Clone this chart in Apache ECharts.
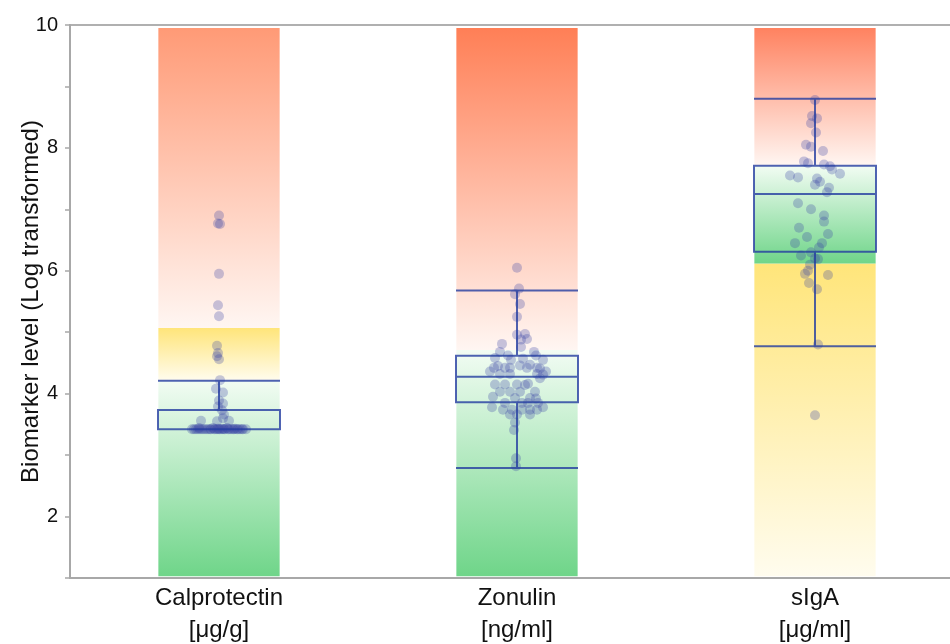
<!DOCTYPE html>
<html><head><meta charset="utf-8">
<script src="https://cdn.jsdelivr.net/npm/echarts@6/dist/echarts.min.js"></script>
<style>html,body{margin:0;padding:0;background:#fff}#c{width:950px;height:644px}</style>
</head><body><div id="c"></div>
<script>
// ---- data ----
const categories = ['Calprotectin\n[μg/g]', 'Zonulin\n[ng/ml]', 'sIgA\n[μg/ml]'];
const yTickLabels = ['2', '4', '6', '8', '10'];
// reference bands: [categoryIndex, low, high, zoneName]
const bandsCalprotectin = [[0, 1.03, 4.21, 'green'], [0, 4.21, 5.07, 'yellow'], [0, 5.07, 9.95, 'red']];
const bandsZonulin = [[1, 1.03, 4.71, 'green'], [1, 4.71, 9.95, 'red']];
const bandsSIgA = [[2, 1.03, 6.12, 'yellow'], [2, 6.12, 7.71, 'green'], [2, 7.71, 9.95, 'red']];
// box stats: [min, Q1, median, Q3, max]
const boxCalprotectin = [3.42, 3.42, 3.42, 3.735, 4.21];
const boxZonulin = [2.79, 3.86, 4.276, 4.618, 5.68];
const boxSIgA = [4.77, 6.31, 7.25, 7.71, 8.80];
// jittered points: [jitter offset (px in category), value]
const ptsCalprotectin = [[0,6.9],[-1,6.77],[1,6.76],[0,5.95],[-1,5.44],[0,5.26],[-2,4.78],[-1,4.66],[-2,4.61],[0,4.56],[1,4.22],[-3,4.08],[4,4.02],[0,3.89],[4,3.84],[-1,3.79],[3,3.73],[5,3.66],[-18,3.56],[-2,3.55],[10,3.56],[4,3.6],
  [-27,3.42],[-23,3.42],[-19,3.42],[-15,3.42],[-11,3.42],[-8,3.42],[-5,3.42],[-2,3.42],[0,3.42],[3,3.42],[6,3.42],[9,3.42],[12,3.42],[15,3.42],[18,3.42],[21,3.42],[24,3.42],[27,3.42],[-20,3.44],[-6,3.44],[8,3.44],
  [-25,3.42],[-21,3.42],[-17,3.42],[-13,3.42],[-9,3.42],[-4,3.42],[1,3.42],[5,3.42],[10,3.42],[14,3.42],[19,3.42],[23,3.42],[-1,3.43],[4,3.43],[16,3.43]];
const ptsZonulin = [[0,6.05],[2,5.71],[-2,5.62],[3,5.46],[0,5.25],[0,4.96],[8,4.97],[10,4.89],[4,4.88],[-15,4.81],[4,4.76],[-17,4.68],[17,4.68],[-9,4.62],[19,4.62],[-22,4.58],[-6,4.55],[6,4.57],[26,4.55],
  [-23,4.42],[-12,4.42],[-7,4.42],[10,4.42],[20,4.42],[23,4.41],[-19,4.45],[3,4.46],[13,4.47],[-27,4.36],[29,4.36],
  [-17,4.32],[-7,4.32],[20,4.32],[26,4.31],[23,4.25],[-22,4.15],[-12,4.15],[0,4.15],[8,4.14],[11,4.16],
  [-17,4.03],[-7,4.03],[3,4.03],[18,4.03],[-24,3.95],[-2,3.93],[13,3.93],[19,3.92],[-12,3.85],[5,3.85],[11,3.85],[21,3.85],
  [-25,3.78],[26,3.78],[-14,3.74],[-5,3.74],[5,3.74],[13,3.74],[20,3.74],[-7,3.66],[0,3.66],[13,3.66],[-2,3.53],[-3,3.41],[-1,2.95],[-1,2.82]];
const ptsSIgA = [[0,8.78],[-3,8.52],[2,8.48],[-4,8.4],[1,8.25],[-9,8.05],[-4,8.02],[8,7.95],[-11,7.78],[-7,7.75],[9,7.73],[15,7.7],[17,7.65],[25,7.58],[-25,7.55],[-17,7.52],[2,7.5],[5,7.45],[0,7.4],[14,7.35],[12,7.28],[-17,7.1],[-4,7.0],[9,6.9],[9,6.8],[-16,6.7],[13,6.6],[-8,6.55],[-20,6.45],[7,6.45],[4,6.38],[-4,6.3],[-14,6.25],[0,6.2],[3,6.19],[-5,6.1],[-7,6.0],[-10,5.95],[13,5.93],[-6,5.8],[2,5.7],[3,4.8],[0,3.65]];

// ---- styles ----
const zoneColors = {
  green: ['#6fd589', '#f2fcf3'],
  yellow: ['#fffcee', '#ffe57a'],
  red: ['#fff6f2', '#ff8460']
};
const redTops = ['#ff9a76', '#ff7f56', '#ff8260'];
const CAT_W = 298;
const lineColor = 'rgba(35,60,160,0.8)';
const ptColor = 'rgba(58,68,165,0.36)';

const allBands = bandsCalprotectin.concat(bandsZonulin, bandsSIgA);
function toXY(pts, idx) { return pts.map(p => [idx + p[0] / CAT_W, p[1]]); }
const font = 'Liberation Sans, Arial, sans-serif';

const chart = echarts.init(document.getElementById('c'));
chart.setOption({
  animation: false,
  grid: { left: 70, width: 894, top: 25, height: 553, outerBoundsMode: 'none', containLabel: false,
    show: true, borderColor: '#b0b0b0', borderWidth: 2, backgroundColor: 'transparent' },
  xAxis: [
    { type: 'category', data: categories, boundaryGap: true,
      axisLine: { lineStyle: { color: '#a8a8a8', width: 2 } }, axisTick: { show: false },
      axisLabel: { color: '#111', fontFamily: font, fontSize: 24, lineHeight: 32, margin: 4 } },
    { type: 'value', min: -0.5, max: 2.5, show: false }
  ],
  yAxis: {
    type: 'value', min: 1, max: 10, interval: 1,
    name: 'Biomarker level (Log transformed)', nameLocation: 'middle', nameGap: 27, nameMoveOverlap: false,
    nameTextStyle: { color: '#111', fontFamily: font, fontSize: 24 },
    axisLine: { show: true, onZero: false, lineStyle: { color: '#a8a8a8', width: 2 } },
    axisTick: { show: true, length: 5, lineStyle: { color: '#a8a8a8', width: 1.5 } },
    splitLine: { show: false },
    axisLabel: { color: '#111', fontFamily: font, fontSize: 20, margin: 12,
      formatter: v => (yTickLabels.indexOf(String(v)) >= 0 ? String(v) : '') }
  },
  series: [
    { type: 'custom', xAxisIndex: 0, z: 1, silent: true,
      data: allBands.map(b => [b[0], b[1], b[2]]),
      renderItem: function (params, api) {
        const b = allBands[params.dataIndex];
        const idx = api.value(0);
        const cx = api.coord([idx, 0])[0];
        const top = api.coord([idx, api.value(2)])[1];
        const bot = api.coord([idx, api.value(1)])[1];
        const w = api.size([1, 0])[0] * 0.407;
        const cols = zoneColors[b[3]].slice();
        if (b[3] === 'red') cols[1] = redTops[b[0]];
        return { type: 'rect', shape: { x: cx - w / 2, y: top, width: w, height: bot - top },
          style: { fill: new echarts.graphic.LinearGradient(0, 1, 0, 0, [{ offset: 0, color: cols[0] }, { offset: 1, color: cols[1] }]) } };
      } },
    { type: 'scatter', xAxisIndex: 1, z: 3, symbolSize: 10, itemStyle: { color: ptColor },
      data: toXY(ptsCalprotectin, 0).concat(toXY(ptsZonulin, 1), toXY(ptsSIgA, 2)) },
    { type: 'boxplot', xAxisIndex: 0, z: 4, boxWidth: [122, 122],
      itemStyle: { color: 'transparent', borderColor: lineColor, borderWidth: 2 },
      data: [boxCalprotectin, boxZonulin, boxSIgA] }
  ]
});
</script></body></html>
